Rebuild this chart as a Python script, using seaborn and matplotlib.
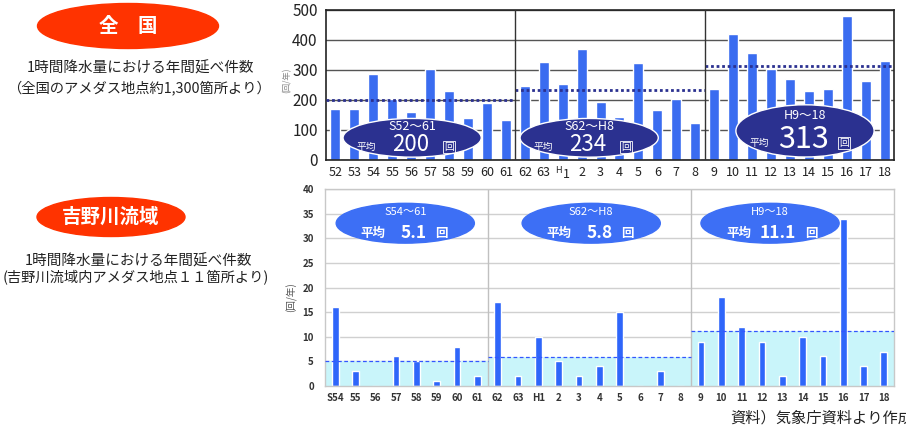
import numpy as np
import pandas as pd
import matplotlib
matplotlib.use("Agg")
import matplotlib.pyplot as plt
from matplotlib.patches import Ellipse
import seaborn as sns

# ── Data ──────────────────────────────────────────────────────────────────────
top_labels = ["52", "53", "54", "55", "56", "57", "58", "59", "60", "61",
              "62", "63", "H1", "2", "3", "4", "5", "6", "7", "8",
              "9", "10", "11", "12", "13", "14", "15", "16", "17", "18"]
top_counts = [170, 170, 286, 203, 161, 303, 230, 140, 191, 135,
              246, 328, 255, 369, 194, 145, 322, 168, 203, 122,
              236, 421, 358, 303, 269, 231, 238, 480, 263, 331]
top_periods = ["S52～61", "S62～H8", "H9～18"]
top_period_len = [10, 10, 10]
top_means = [200, 234, 313]

bot_labels = ["S54", "55", "56", "57", "58", "59", "60", "61",
              "62", "63", "H1", "2", "3", "4", "5", "6", "7", "8",
              "9", "10", "11", "12", "13", "14", "15", "16", "17", "18"]
bot_counts = [16, 3, 0, 6, 5, 1, 8, 2,
              17, 2, 10, 5, 2, 4, 15, 0, 3, 0,
              9, 18, 12, 9, 2, 10, 6, 34, 4, 7]
bot_periods = ["S54～61", "S62～H8", "H9～18"]
bot_period_len = [8, 10, 10]
bot_means = [5.1, 5.8, 11.1]

# ── Style ─────────────────────────────────────────────────────────────────────
sns.set_theme(style="white")
plt.rcParams["font.family"] = ["Noto Sans CJK JP", "DejaVu Sans"]

RED = "#ff3300"
TOP_BAR = "#3a6cf0"
NAVY = "#2b3190"
BOT_BAR = "#2f66fa"
BOT_ELL = "#3d6ff5"
CYAN = "#c9f5fa"

fig = plt.figure(figsize=(9.06, 4.26), dpi=100)

# pixel overlay for the left-hand captions
bg = fig.add_axes([0, 0, 1, 1])
bg.set_xlim(0, 906)
bg.set_ylim(426, 0)
bg.axis("off")

bg.add_patch(Ellipse((128, 26), 181, 45, color=RED))
bg.text(128, 27, "全　国", color="white", fontsize=14, fontweight="bold",
        ha="center", va="center")
bg.text(140, 68, "1時間降水量における年間延べ件数", fontsize=10.5,
        ha="center", va="center", color="#222")
bg.text(139, 88, "（全国のアメダス地点約1,300箇所より）", fontsize=10.3,
        ha="center", va="center", color="#222")

bg.add_patch(Ellipse((111, 217), 148, 39, color=RED))
bg.text(111, 217, "吉野川流域", color="white", fontsize=14, fontweight="bold",
        ha="center", va="center")
bg.text(139, 261, "1時間降水量における年間延べ件数", fontsize=10.5,
        ha="center", va="center", color="#222")
bg.text(136, 277, "(吉野川流域内アメダス地点１１箇所より)", fontsize=10.3,
        ha="center", va="center", color="#222")

bg.text(730, 418, "資料）気象庁資料より作成", fontsize=11, ha="left",
        va="center", color="#222")

# ── Top chart: whole country ─────────────────────────────────────────────────
ax1 = fig.add_axes([326 / 906, 1 - 160 / 426, 568 / 906, 150 / 426])
df_top = pd.DataFrame({"label": top_labels, "count": top_counts})
sns.barplot(data=df_top, x="label", y="count", order=top_labels,
            color=TOP_BAR, saturation=1, width=0.53, ax=ax1, zorder=2)
ax1.set_xlim(-0.5, len(top_labels) - 0.5)
ax1.set_ylim(0, 500)
ax1.set_yticks(np.arange(0, 501, 100))
ax1.yaxis.grid(True, color="#555555", lw=1)
ax1.set_axisbelow(True)
ax1.set_xlabel("")
ax1.set_ylabel("")
ax1.set_xticks(range(len(top_labels)))
ax1.set_xticklabels([r"$^{\mathrm{H}}$1" if l == "H1" else l for l in top_labels],
                    fontsize=9, color="#222")
ax1.tick_params(axis="y", labelsize=11, colors="#222", length=0, pad=6)
ax1.tick_params(axis="x", length=0, pad=4)
for s in ax1.spines.values():
    s.set_color("#222")
    s.set_linewidth(1.2)
fig.text(287 / 906, 1 - 80 / 426, "(回/年)", rotation=90, fontsize=6,
         color="#888", ha="center", va="center")

start = -0.5
ell_top = [dict(cx=4.05, cy=74, h=129, num=16),
           dict(cx=13.4, cy=74, h=129, num=16),
           dict(cx=24.8, cy=97, h=174, num=22)]
for i, (name, n, m) in enumerate(zip(top_periods, top_period_len, top_means)):
    end = start + n
    ax1.hlines(m, start, end, colors=NAVY, linestyles=(0, (1, 1)), lw=2,
               zorder=3)
    if i > 0:
        ax1.axvline(start, color="#333", lw=1, zorder=3)
    e = ell_top[i]
    ax1.add_patch(Ellipse((e["cx"], e["cy"]), 7.3, e["h"], facecolor=NAVY,
                          edgecolor="white", lw=1, zorder=4, clip_on=False))
    k = e["h"] / 129
    ax1.text(e["cx"], e["cy"] + 38 * k, name, color="white", fontsize=9,
             ha="center", va="center", zorder=5)
    ax1.text(e["cx"] - 0.1, e["cy"] - 21 * k, f"{m}", color="white",
             fontsize=e["num"], ha="center", va="center", zorder=5)
    ax1.text(e["cx"] - 2.4, e["cy"] - 30 * k, "平均", color="white",
             fontsize=7, ha="center", va="center", zorder=5)
    ax1.text(e["cx"] + 1.95 + 0.3 * (k - 1), e["cy"] - 30 * k, "回",
             color="white", fontsize=7, ha="center", va="center", zorder=5,
             bbox=dict(boxstyle="square,pad=0.1", fc="none", ec="white", lw=0.6))
    start = end

# ── Bottom chart: Yoshino river basin ────────────────────────────────────────
ax2 = fig.add_axes([325 / 906, 40 / 426, 569 / 906, 196.7 / 426])
df_bot = pd.DataFrame({"label": bot_labels, "count": bot_counts})
sns.barplot(data=df_bot, x="label", y="count", order=bot_labels,
            color=BOT_BAR, saturation=1, width=0.33, ax=ax2, zorder=2)
ax2.set_xlim(-0.5, len(bot_labels) - 0.5)
ax2.set_ylim(0, 40)
ax2.set_yticks(np.arange(0, 41, 5))
ax2.yaxis.grid(True, color="#d0d0d0", lw=1)
ax2.set_axisbelow(True)
ax2.set_xlabel("")
ax2.set_ylabel("")
ax2.set_xticks(range(len(bot_labels)))
ax2.set_xticklabels(bot_labels, fontsize=7, fontweight="bold", color="#333")
ax2.tick_params(axis="y", labelsize=7, colors="#333", length=0, pad=8)
ax2.tick_params(axis="x", length=0, pad=5)
for t in ax2.get_yticklabels():
    t.set_fontweight("bold")
for s in ax2.spines.values():
    s.set_color("#c8c8c8")
    s.set_linewidth(1)
fig.text(291 / 906, 1 - 297 / 426, "(回/年)", rotation=90, fontsize=7,
         color="#555", ha="center", va="center")

start = -0.5
ell_bot_x = [3.45, 12.6, 21.4]
for i, (name, n, m) in enumerate(zip(bot_periods, bot_period_len, bot_means)):
    end = start + n
    ax2.fill_between([start, end], 0, m, color=CYAN, lw=0, zorder=1)
    ax2.hlines(m, start, end, colors="#3355ff", linestyles=(0, (3, 2)), lw=0.9,
               zorder=3)
    if i > 0:
        ax2.axvline(start, color="#c0c0c0", lw=1, zorder=1.5)
    cx = ell_bot_x[i]
    ax2.add_patch(Ellipse((cx, 33.1), 6.8, 8.1, color=BOT_ELL, zorder=4))
    ax2.text(cx, 35.4, name, color="white", fontsize=8, ha="center",
             va="center", zorder=5)
    wide = m >= 10
    ax2.text(cx - (1.55 if wide else 1.6), 31.0, "平均", color="white",
             fontsize=9, fontweight="bold", ha="center", va="center", zorder=5)
    ax2.text(cx + 0.4, 31.2, f"{m}", color="white", fontsize=12.5,
             fontweight="bold", ha="center", va="center", zorder=5)
    ax2.text(cx + (2.05 if wide else 1.8), 31.0, "回", color="white",
             fontsize=9, fontweight="bold", ha="center", va="center", zorder=5)
    start = end

plt.savefig("out.png", dpi=100)
